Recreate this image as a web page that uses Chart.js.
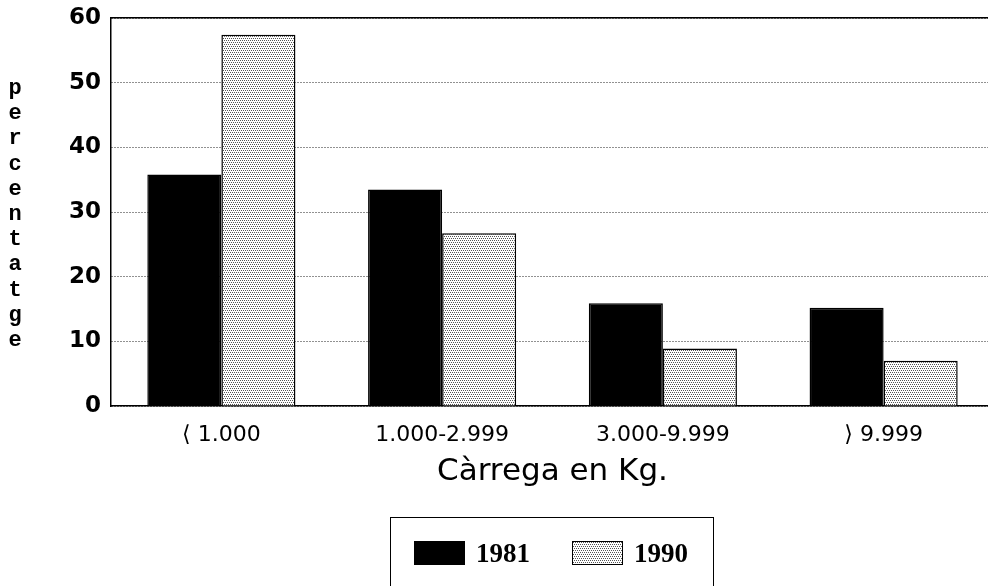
<!DOCTYPE html>
<html>
<head>
<meta charset="utf-8">
<script src="https://cdn.jsdelivr.net/npm/chart.js@4.4.1/dist/chart.umd.min.js"></script>
<style>
    html, body { margin: 0; padding: 0; background: #fff; overflow: hidden; width: 988px; height: 586px; }
    #wrap { position: relative; width: 994px; height: 586px; }
    #ylabel { position: absolute; left: 4px; top: 76px; width: 22px; font: bold 22px "Liberation Mono", monospace; text-align: center; color: #000; }
    #ylabel div { height: 25.2px; line-height: 25.2px; }
    #legend { position: absolute; left: 390px; top: 517px; width: 322px; height: 100px; border: 1.5px solid #000; font: bold 27px "Liberation Serif", serif; color: #000; }
    .item { position: absolute; top: 23px; display: flex; align-items: center; height: 24px; }
    .swatch { width: 51px; height: 24px; box-sizing: border-box; margin-right: 11px; }
</style>
</head>
<body>
<div id="wrap">
    <canvas id="chart" width="994" height="586"></canvas>
    <div id="ylabel"></div>
    <div id="legend"></div>
</div>
<script>
const categories = ['⟨ 1.000', '1.000-2.999', '3.000-9.999', '⟩ 9.999'];
const seriesNames = ['1981', '1990'];
const values1981 = [35.8, 33.5, 15.9, 15.2];
const values1990 = [57.4, 26.7, 8.9, 7.0];
const yTitle = 'percentatge';
const xTitle = 'Càrrega en Kg.';

document.addEventListener('DOMContentLoaded', function() {
    // dotted fill for the 1990 bars
    const tile = document.createElement('canvas');
    tile.width = 4;
    tile.height = 4;
    const t = tile.getContext('2d');
    t.fillStyle = '#fff';
    t.fillRect(0, 0, 4, 4);
    t.fillStyle = '#555';
    t.fillRect(0, 0, 1, 1);
    t.fillRect(2, 0, 1, 1);
    t.fillRect(1, 2, 1, 1);
    t.fillRect(3, 2, 1, 1);

    const canvas = document.getElementById('chart');
    const dots = canvas.getContext('2d').createPattern(tile, 'repeat');
    const fills = ['#000', dots];

    new Chart(canvas, {
        type: 'bar',
        data: {
            labels: categories,
            datasets: [
                { label: seriesNames[0], data: values1981, backgroundColor: fills[0], borderColor: '#000', borderWidth: 1.5 },
                { label: seriesNames[1], data: values1990, backgroundColor: fills[1], borderColor: '#000', borderWidth: 1.5 }
            ]
        },
        options: {
            responsive: false,
            animation: false,
            devicePixelRatio: 1,
            layout: { padding: { top: 0, left: 0, right: 0, bottom: 0 } },
            plugins: { legend: { display: false }, tooltip: { enabled: false } },
            datasets: { bar: { categoryPercentage: 0.671, barPercentage: 1 } },
            scales: {
                x: {
                    grid: { display: false },
                    border: { color: '#000', width: 1.5 },
                    ticks: { color: '#000', padding: 8, font: { family: 'DejaVu Sans', size: 22 } },
                    title: {
                        display: true, text: xTitle, color: '#000',
                        font: { family: 'DejaVu Sans', size: 31 },
                        padding: { top: 0, bottom: 95 }
                    },
                    afterFit: s => { s.height = 180; }
                },
                xTop: {
                    type: 'category',
                    labels: categories,
                    position: 'top',
                    offset: true,
                    grid: { display: false, drawTicks: false },
                    ticks: { display: false },
                    border: { color: '#000', width: 1.5 },
                    afterFit: s => { s.height = 0; }
                },
                y: {
                    min: 0,
                    max: 60,
                    ticks: { stepSize: 10, color: '#000', padding: 10, font: { family: 'DejaVu Sans', size: 23, weight: 'bold', lineHeight: 0.7 } },
                    grid: { color: '#222', lineWidth: 1, drawTicks: false },
                    border: { color: '#000', width: 1.5, dash: [1, 2] },
                    afterFit: s => { s.width = 111; }
                }
            }
        }
    });

    // stacked letters of the y title
    document.getElementById('ylabel').innerHTML = yTitle.split('').map(c => '<div>' + c + '</div>').join('');

    // boxed legend under the axis title
    const legend = document.getElementById('legend');
    const lefts = [23, 181];
    seriesNames.forEach((name, i) => {
        const item = document.createElement('div');
        item.className = 'item';
        item.style.left = lefts[i] + 'px';
        const sw = document.createElement('div');
        sw.className = 'swatch';
        if (i === 0) {
            sw.style.background = '#000';
        } else {
            sw.style.backgroundImage = 'url(' + tile.toDataURL() + ')';
            sw.style.border = '1.5px solid #000';
        }
        const label = document.createElement('span');
        label.textContent = name;
        item.appendChild(sw);
        item.appendChild(label);
        legend.appendChild(item);
    });
});
</script>
</body>
</html>
